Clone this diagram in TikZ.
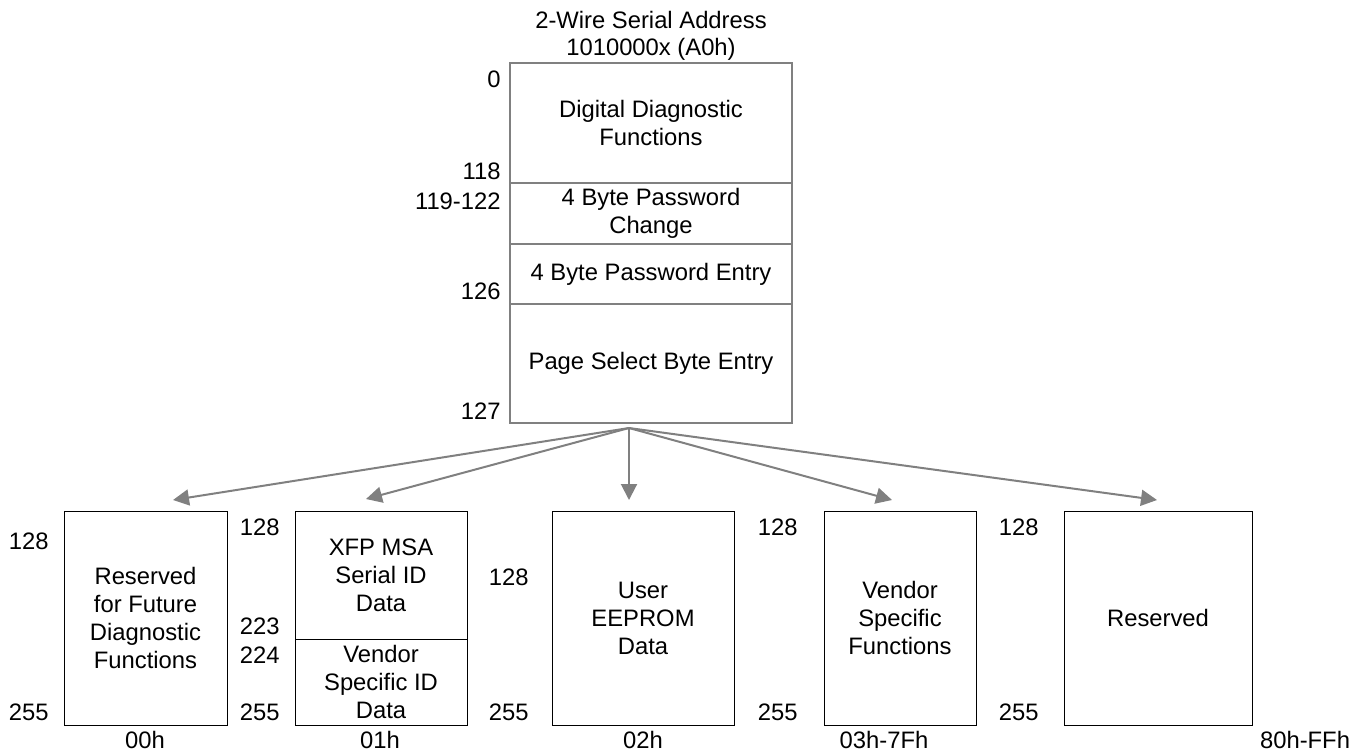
\documentclass[tikz,border=0pt]{standalone}
\usepackage{fontspec}
\setmainfont{Liberation Sans}
\usetikzlibrary{arrows.meta}
\definecolor{linegray}{HTML}{808080}

\begin{document}
\begin{tikzpicture}[x=0.5pt,y=-0.5pt,
    every node/.style={font=\fontsize{11.9}{14}\selectfont, align=center, inner sep=0pt},
    topbox/.style={draw=linegray, line width=1pt, minimum width=141pt},
    pagebox/.style={draw=black, line width=0.5pt},
    addr/.style={anchor=east},
    arrow/.style={draw=linegray, line width=1pt, -{Triangle[length=8pt,width=8pt]}}]

  \useasboundingbox (0,0) rectangle (1352,752);

  \node at(651,20)(title){2-Wire Serial Address};
  \node at(651,49)(title2){1010000x (A0h)};

  % Nodes
  \node[topbox, minimum height=60pt] at(651,123)(dd){Digital Diagnostic\\Functions};
  \node[topbox, minimum height=30.5pt] at(651,213.5)(pwchg){4 Byte Password\\Change};
  \node[topbox, minimum height=30pt] at(651,274)(pwent){4 Byte Password Entry};
  \node[topbox, minimum height=59.5pt] at(651,363.5)(pgsel){Page Select Byte Entry};

  \node[pagebox, minimum width=81.5pt, minimum height=107pt] at(145.5,618)(pg00){Reserved\\for Future\\Diagnostic\\Functions};
  \node[pagebox, minimum width=86pt, minimum height=64pt] at(381,575)(pg01a){XFP MSA\\Serial ID\\Data};
  \node[pagebox, minimum width=86pt, minimum height=43pt] at(381,682)(pg01b){Vendor\\Specific ID\\Data};
  \node[pagebox, minimum width=91pt, minimum height=107pt] at(643,618)(pg02){User\\EEPROM\\Data};
  \node[pagebox, minimum width=76pt, minimum height=107pt] at(900,618)(pg03){Vendor\\Specific\\Functions};
  \node[pagebox, minimum width=94pt, minimum height=107pt] at(1158,618)(pg80){Reserved};

  % byte addresses
  \node[addr] at(501,79)(a0){0};
  \node[addr] at(501,171)(a118){118};
  \node[addr] at(501,201)(a119){119-122};
  \node[addr] at(501,291)(a126){126};
  \node[addr] at(501,411)(a127){127};

  \node[addr] at(49,541)(b00s){128};
  \node[addr] at(49,712)(b00e){255};
  \node[addr] at(280,527)(b01s){128};
  \node[addr] at(280,626)(b01m){223};
  \node[addr] at(280,655)(b01n){224};
  \node[addr] at(280,712)(b01e){255};
  \node[addr] at(529,577)(b02s){128};
  \node[addr] at(529,712)(b02e){255};
  \node[addr] at(798,527)(b03s){128};
  \node[addr] at(798,712)(b03e){255};
  \node[addr] at(1039,527)(b80s){128};
  \node[addr] at(1039,712)(b80e){255};

  % page numbers
  \node at(145,740)(p00){00h};
  \node at(380,740)(p01){01h};
  \node at(643,740)(p02){02h};
  \node at(884,740)(p03){03h-7Fh};
  \node at(1305,740)(p80){80h-FFh};

  % page select arrows
  \coordinate (src) at(629,428);
  \coordinate (t00) at(173,500);
  \coordinate (t01) at(366,499);
  \coordinate (t02) at(629,500);
  \coordinate (t03) at(892,500);
  \coordinate (t80) at(1157,500);
  \draw[arrow] (src) -- (t00);
  \draw[arrow] (src) -- (t01);
  \draw[arrow] (src) -- (t02);
  \draw[arrow] (src) -- (t03);
  \draw[arrow] (src) -- (t80);

\end{tikzpicture}
\end{document}
